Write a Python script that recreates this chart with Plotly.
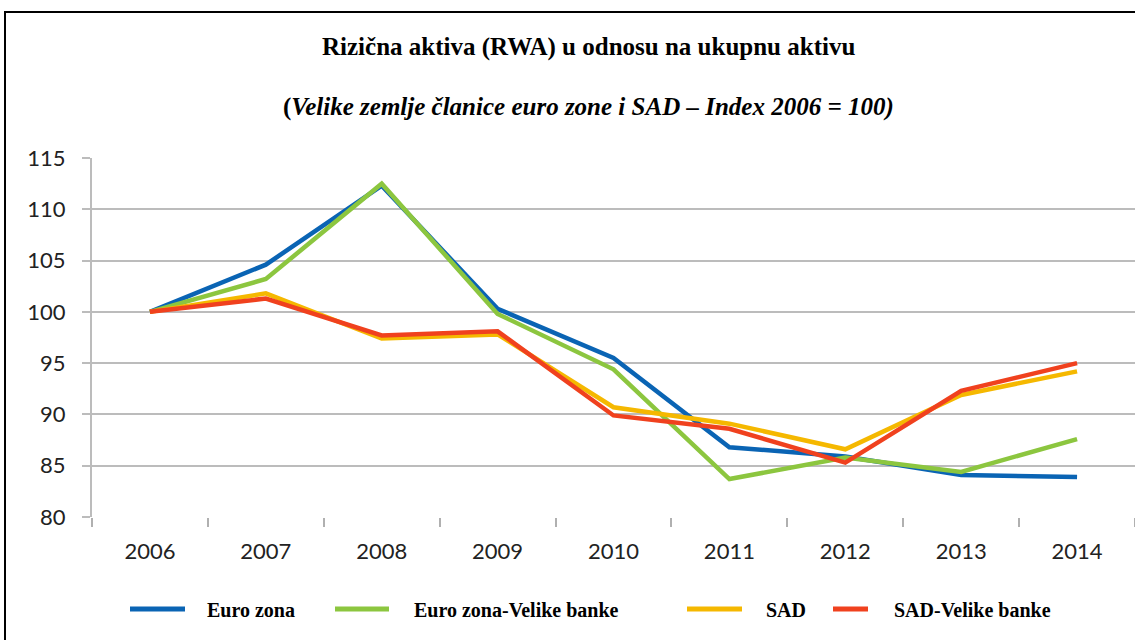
import plotly.graph_objects as go

years = ["2006", "2007", "2008", "2009", "2010", "2011", "2012", "2013", "2014"]
euro_zona = [100, 104.6, 112.3, 100.3, 95.5, 86.8, 85.9, 84.1, 83.9]
euro_zona_velike = [100, 103.2, 112.5, 99.8, 94.4, 83.7, 85.8, 84.4, 87.6]
sad = [100, 101.8, 97.4, 97.8, 90.7, 89.1, 86.6, 91.9, 94.2]
sad_velike = [100, 101.3, 97.7, 98.1, 89.9, 88.6, 85.3, 92.3, 95.0]

names = ["Euro zona", "Euro zona-Velike banke", "SAD", "SAD-Velike banke"]
colors = ["#0a64b4", "#8cc63f", "#f5b800", "#f0411e"]
series = [euro_zona, euro_zona_velike, sad, sad_velike]

# plot-area geometry (pixels) used to place paper-referenced decorations
L, R, T, B = 92, 1135, 158, 517
W, H = R - L, B - T


def px_x(p):
    return (p - L) / W


def px_y(p):
    return (B - p) / H


fig = go.Figure()
for name, col, vals in zip(names, colors, series):
    fig.add_trace(go.Scatter(x=years, y=vals, mode="lines", name=name,
                             line=dict(color=col, width=4.5), showlegend=False))

fig.update_layout(
    width=1135, height=640,
    margin=dict(l=L, r=1135 - R, t=T, b=640 - B),
    paper_bgcolor="white", plot_bgcolor="white",
    showlegend=False,
    xaxis=dict(type="category", range=[-0.5, 8.5], tickson="boundaries",
               ticks="outside", ticklen=9, tickcolor="#b0b0b0", tickwidth=2,
               showgrid=False, showline=False, ticklabelstandoff=19,
               tickfont=dict(family="Lato", size=22, color="#222"),
               zeroline=False),
    yaxis=dict(range=[80, 115], dtick=5, showgrid=True, gridcolor="#bcbcbc",
               gridwidth=2, showline=True, linecolor="#bcbcbc", linewidth=2,
               ticks="outside", ticklen=8, tickcolor="#bcbcbc", tickwidth=2,
               ticklabelstandoff=12,
               tickfont=dict(family="Lato", size=22, color="#222"), zeroline=False),
    font=dict(family="Liberation Serif"),
)

fig.add_annotation(text="<b>Rizična aktiva (RWA) u odnosu na ukupnu aktivu</b>",
                   xref="paper", yref="paper", x=px_x(588), y=px_y(47),
                   xanchor="center", yanchor="middle", showarrow=False,
                   font=dict(family="Liberation Serif", size=25, color="#000"))
fig.add_annotation(text="<b>(<i>Velike zemlje članice euro zone i SAD – Index 2006 = 100)</i></b>",
                   xref="paper", yref="paper", x=px_x(588), y=px_y(107),
                   xanchor="center", yanchor="middle", showarrow=False,
                   font=dict(family="Liberation Serif", size=25, color="#000"))

# legend drawn manually (line sample + label)
leg_line_x = [(130, 185), (335, 389), (687, 742), (833, 868)]
leg_text_x = [205, 412, 764, 892]
leg_y = 609
for name, col, (x0, x1), tx in zip(names, colors, leg_line_x, leg_text_x):
    fig.add_shape(type="line", xref="paper", yref="paper",
                  x0=px_x(x0), x1=px_x(x1), y0=px_y(leg_y), y1=px_y(leg_y),
                  line=dict(color=col, width=5))
    fig.add_annotation(text="<b>" + name + "</b>", xref="paper", yref="paper",
                       x=px_x(tx), y=px_y(leg_y + 1), xanchor="left", yanchor="middle",
                       showarrow=False,
                       font=dict(family="Liberation Serif", size=20, color="#000"))

fig.add_shape(type="rect", xref="paper", yref="paper",
              x0=px_x(5), x1=1.2, y0=-0.6, y1=px_y(12),
              line=dict(color="#000", width=2), layer="below")

fig.write_html("out.html", config={"displayModeBar": False},
               post_script="document.body.style.margin='0';")
